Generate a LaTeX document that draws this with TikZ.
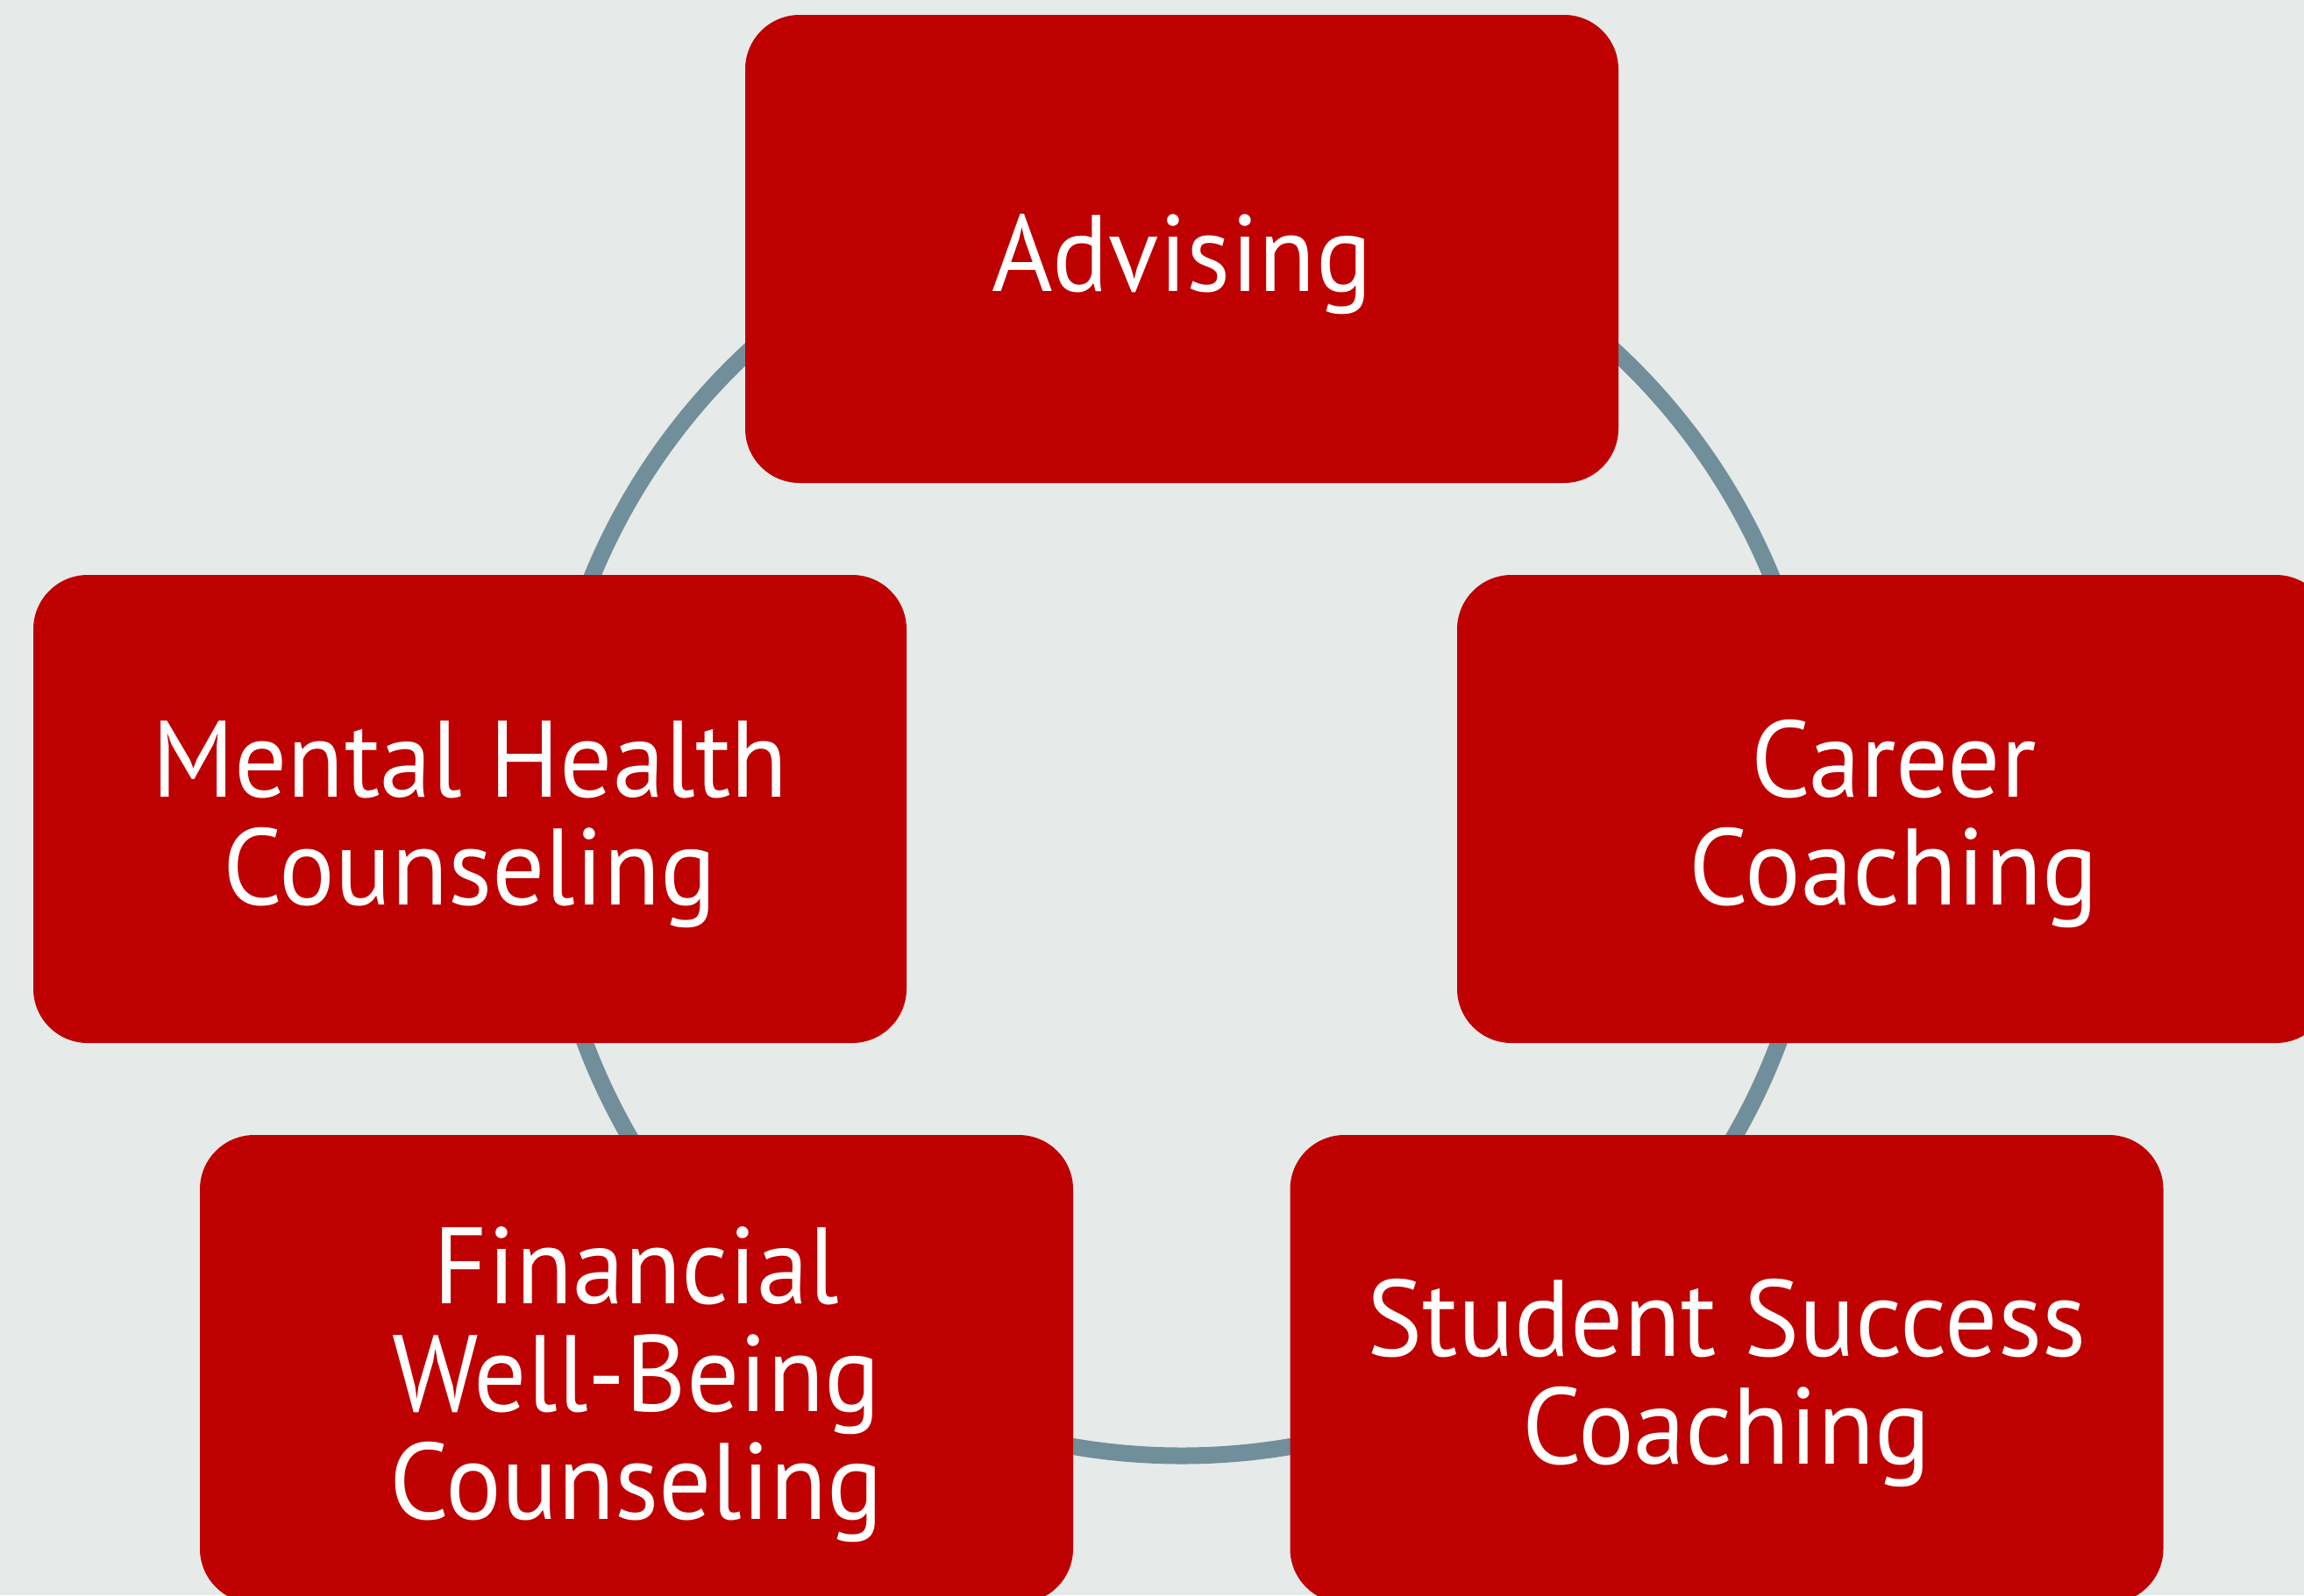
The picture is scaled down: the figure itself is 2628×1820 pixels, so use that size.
\documentclass[tikz,border=0pt]{standalone}
\usepackage{fontspec}
\setmainfont[FakeStretch=0.96]{PT Sans}
\definecolor{bg}{HTML}{E6EAE9}
\definecolor{boxred}{HTML}{BE0000}
\definecolor{ring}{HTML}{718F9A}
\begin{document}
\begin{tikzpicture}[x=1pt,y=-1pt,
  box/.style={draw=none, fill=boxred, rounded corners=62pt, minimum width=996pt, minimum height=534pt, inner sep=0pt, outer sep=0pt},
  lbl/.style={text=white, align=center, anchor=base, inner sep=0pt, font=\fontsize{124}{123}\selectfont}]
\fill[bg] (0,0) rectangle (2628,1820);
\useasboundingbox (0,0) rectangle (2628,1820);
\clip (0,0) rectangle (2628,1820);
\coordinate (c) at (1348,934);
\draw[ring, line width=19pt] (c) circle[radius=727pt];
\node[box] (adv) at (1348,284) {};
\node[box] (mh) at (536,923) {};
\node[box] (car) at (2160,923) {};
\node[box] (fin) at (726,1562) {};
\node[box] (ssc) at (1969.5,1562) {};
\node[lbl] (tadv) at (1348,332) {Advising};
\node[lbl] (tmh) at (536,1032) {Mental Health\\Counseling};
\node[lbl] (tcar) at (2160,1032) {Career\\Coaching};
\node[lbl] (tfin) at (726,1733) {Financial\\Well-Being\\Counseling};
\node[lbl] (tssc) at (1969.5,1670) {Student Success\\Coaching};
\end{tikzpicture}
\end{document}
